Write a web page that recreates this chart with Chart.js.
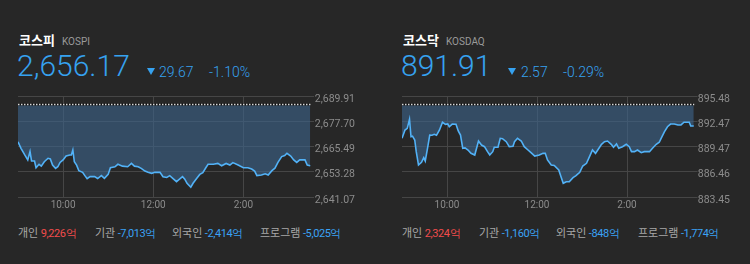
<!DOCTYPE html>
<html><head><meta charset="utf-8">
<script src="https://cdn.jsdelivr.net/npm/chart.js@4"></script>
<style>
html,body{margin:0;padding:0;background:#272727;width:750px;height:264px;overflow:hidden;font-family:Roboto,'Noto Sans CJK KR',sans-serif;}
.a{position:absolute;white-space:nowrap;line-height:1;}
.kr{font-family:'Noto Sans CJK KR',sans-serif;}
.name{font-weight:bold;font-size:13px;color:#fff;}
.code{font-size:10px;color:#9a9a9a;}
.big{font-size:30px;color:#36a2f0;font-weight:300;}
.chg{font-size:14px;color:#36a2f0;font-weight:300;}
.tri{position:absolute;width:0;height:0;border-left:4.5px solid transparent;border-right:4.5px solid transparent;border-top:7px solid #36a2f0;}
.flow{font-size:11px;color:#a8a8a8;}
.flow .v{font-family:Roboto,sans-serif;letter-spacing:-0.4px;}
.red{color:#f24c4c;} .blue{color:#3aa2f5;}
.cw{position:absolute;top:86px;width:375px;height:130px;}
</style></head><body>
<div class="a kr name" style="left:19px;top:33px">코스피</div>
<div class="a code" style="left:62px;top:37px">KOSPI</div>
<div class="a big" style="left:17px;top:51px">2,656.17</div>
<div class="tri" style="left:147px;top:68px"></div>
<div class="a chg" style="left:159px;top:65px">29.67</div>
<div class="a chg" style="left:209px;top:65px">-1.10%</div>

<div class="a kr name" style="left:403px;top:33px">코스닥</div>
<div class="a code" style="left:446px;top:37px">KOSDAQ</div>
<div class="a big" style="left:401px;top:51px">891.91</div>
<div class="tri" style="left:508px;top:68px"></div>
<div class="a chg" style="left:521px;top:65px">2.57</div>
<div class="a chg" style="left:563px;top:65px">-0.29%</div>

<div class="a kr flow" style="left:18px;top:227px">개인 <span class="v red">9,226억</span></div>
<div class="a kr flow" style="left:95px;top:227px">기관 <span class="v blue">-7,013억</span></div>
<div class="a kr flow" style="left:172px;top:227px">외국인 <span class="v blue">-2,414억</span></div>
<div class="a kr flow" style="left:260px;top:227px">프로그램 <span class="v blue">-5,025억</span></div>
<div class="a kr flow" style="left:402px;top:227px">개인 <span class="v red">2,324억</span></div>
<div class="a kr flow" style="left:479px;top:227px">기관 <span class="v blue">-1,160억</span></div>
<div class="a kr flow" style="left:556px;top:227px">외국인 <span class="v blue">-848억</span></div>
<div class="a kr flow" style="left:638px;top:227px">프로그램 <span class="v blue">-1,774억</span></div>

<div class="cw" style="left:0px"><canvas id="c1" width="375" height="130"></canvas></div>
<div class="cw" style="left:375px"><canvas id="c2" width="375" height="130"></canvas></div>

<script>
// minutes after 9:00
const timeTicks = [60, 180, 300];
const timeLabels = ['10:00', '12:00', '2:00'];

const kospiTimes = [0,4,9,13,16,18,22,24,28,31,35,40,43,46,50,53,56,60,64,69,71,73,75,78,81,86,89,92,96,102,106,111,115,120,123,129,133,139,146,151,155,160,164,169,173,178,182,189,193,198,202,206,211,215,219,222,225,230,233,238,242,246,250,253,260,266,271,277,282,286,293,300,306,311,315,318,324,329,333,338,342,346,351,355,358,363,367,371,375,382,385,389];
const kospiValues = [2667.8,2664.6,2661.4,2659.0,2663.0,2658.5,2658.5,2655.2,2656.9,2656.0,2658.1,2659.8,2659.5,2656.5,2654.9,2655.7,2657.8,2659.0,2660.9,2661.4,2661.4,2663.8,2658.1,2656.5,2653.8,2653.0,2651.4,2649.9,2650.9,2650.9,2650.0,2651.4,2650.1,2652.0,2655.2,2655.7,2656.9,2656.0,2655.7,2657.3,2656.0,2655.7,2654.9,2653.6,2653.0,2652.5,2653.0,2653.0,2650.9,2650.5,2651.4,2650.1,2648.5,2649.7,2650.9,2649.7,2647.7,2645.8,2647.7,2650.1,2652.0,2652.8,2655.2,2656.9,2656.9,2657.3,2656.2,2657.3,2656.5,2657.7,2656.5,2655.2,2655.2,2654.6,2653.6,2651.4,2651.7,2652.3,2651.7,2653.8,2655.0,2657.8,2660.6,2661.1,2662.2,2660.9,2659.0,2657.8,2659.0,2659.0,2656.5,2656.17];
const kospiPrevClose = 2685.84;
const kospiYTicks = [2641.07, 2653.28, 2665.49, 2677.70, 2689.91];

const kosdaqTimes = [0,4,7,10,12,14,17,19,22,26,29,31,34,37,40,43,46,50,54,58,61,63,67,72,75,78,81,84,88,92,97,102,106,110,114,117,121,123,128,131,134,139,143,148,150,154,159,163,168,172,177,183,188,191,194,199,203,209,212,215,219,223,228,232,237,241,246,250,254,258,261,266,270,274,279,282,286,289,294,299,303,306,310,314,319,323,330,334,339,343,346,350,354,358,363,368,372,376,383,385,389];
const kosdaqValues = [890.44,891.43,891.63,892.7,890.63,890.7,890.24,888.85,887.26,887.58,888.13,887.74,889.25,890.83,890.8,890.92,890.8,891.43,892.35,892.11,892.15,891.82,892.14,892.11,891.31,890.83,889.25,889.3,889.05,888.65,888.45,890.12,889.64,889.44,888.85,888.45,888.85,889.37,889.37,890.44,890.4,890.04,889.44,889.5,890.04,890.44,890.12,889.44,889.05,888.73,888.33,888.45,888.65,888.65,887.86,887.26,887.2,886.67,885.87,885.08,885.27,885.27,885.75,885.99,886.39,887.14,887.46,888.25,889.05,888.65,889.05,889.73,890.04,890.12,889.73,889.37,889.77,889.25,889.44,889.73,889.44,888.85,888.85,889.05,888.73,888.85,888.85,889.25,889.73,889.97,890.51,891.23,891.82,892.14,892.14,892.03,892.03,892.35,892.35,891.91,891.91];
const kosdaqPrevClose = 894.48;
const kosdaqYTicks = [883.45, 886.46, 889.47, 892.47, 895.48];

const GRID = '#464646';
const LABEL = '#8c8c8c';

function makeChart(id, times, values, prev, yTicks, padLeft, axisWidth) {
  const pts = times.map((t, i) => ({x: t, y: values[i]}));
  const prevLine = [{x: 0, y: prev}, {x: 390, y: prev}];
  new Chart(document.getElementById(id), {
    type: 'line',
    data: {
      datasets: [
        {data: prevLine, borderColor: '#d8d8d8', borderWidth: 1.5, borderDash: [1.5, 1.5], pointRadius: 0, fill: false, order: 0},
        {data: prevLine, borderColor: '#111111', borderWidth: 2, pointRadius: 0, fill: false, order: 1},
        {data: pts, borderColor: '#52b2f7', borderWidth: 1.6, pointRadius: 0, tension: 0,
         fill: {value: prev}, backgroundColor: 'rgba(62,100,138,0.62)', order: 2}
      ]
    },
    options: {
      responsive: false, animation: false, devicePixelRatio: 1,
      layout: {padding: {left: padLeft, right: 20, top: 10, bottom: 0}},
      plugins: {legend: {display: false}, tooltip: {enabled: false}},
      scales: {
        x: {
          type: 'linear', min: 0, max: 390,
          afterBuildTicks: s => { s.ticks = timeTicks.map(v => ({value: v})); },
          afterFit: s => { s.height = 19; },
          ticks: {color: LABEL, font: {family: 'Roboto', size: 10}, padding: 2,
                  callback: v => timeLabels[timeTicks.indexOf(v)]},
          grid: {color: GRID, drawTicks: false},
          border: {display: false}
        },
        y: {
          position: 'right', min: yTicks[0], max: yTicks[yTicks.length - 1],
          afterBuildTicks: s => { s.ticks = yTicks.map(v => ({value: v})); },
          afterFit: s => { s.width = axisWidth; },
          ticks: {color: LABEL, font: {family: 'Roboto', size: 10.5}, crossAlign: 'far', labelOffset: 3,
                  callback: v => v.toLocaleString('en-US', {minimumFractionDigits: 2, maximumFractionDigits: 2})},
          grid: {color: GRID, tickLength: 3},
          border: {display: false}
        }
      }
    }
  });
}

makeChart('c1', kospiTimes, kospiValues, kospiPrevClose, kospiYTicks, 18, 44);
makeChart('c2', kosdaqTimes, kosdaqValues, kosdaqPrevClose, kosdaqYTicks, 27, 35.5);
</script>
</body></html>
